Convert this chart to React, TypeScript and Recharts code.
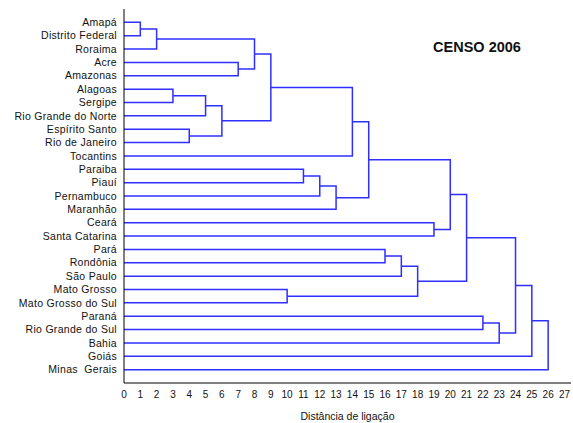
import React from "react";
import { ComposedChart, Line, XAxis, YAxis } from "recharts";

const states: string[] = [
  "Amapá", "Distrito Federal", "Roraima", "Acre", "Amazonas", "Alagoas", "Sergipe",
  "Rio Grande do Norte", "Espírito Santo", "Rio de Janeiro", "Tocantins", "Paraiba",
  "Piauí", "Pernambuco", "Maranhão", "Ceará", "Santa Catarina", "Pará", "Rondônia",
  "São Paulo", "Mato Grosso", "Mato Grosso do Sul", "Paraná", "Rio Grande do Sul",
  "Bahia", "Goiás", "Minas  Gerais",
];

// merges: [left node, right node, linkage distance]; new cluster ids start at states.length
const merges: [number, number, number][] = [
  [0, 1, 1], [27, 2, 2], [5, 6, 3], [8, 9, 4], [29, 7, 5], [31, 30, 6], [3, 4, 7],
  [28, 33, 8], [34, 32, 9], [20, 21, 10], [11, 12, 11], [37, 13, 12], [38, 14, 13],
  [35, 10, 14], [40, 39, 15], [17, 18, 16], [42, 19, 17], [43, 36, 18], [15, 16, 19],
  [41, 45, 20], [46, 44, 21], [22, 23, 22], [48, 24, 23], [47, 49, 24], [50, 25, 25],
  [51, 26, 26],
];

const xTicks: number[] = [0, 1, 2, 3, 4, 5, 6, 7, 8, 9, 10, 11, 12, 13, 14, 15, 16, 17, 18, 19, 20, 21, 22, 23, 24, 25, 26, 27];
const xMinorTicks: number[] = xTicks.flatMap((t) => [t, t + 0.2, t + 0.4, t + 0.6, t + 0.8]);
const yTicks: number[] = states.map((_, i) => i);

const X_DOMAIN: [number, number] = [0, 27.4];
const Y_DOMAIN: [number, number] = [-1, 27];
const BLUE = "#2f2fff";
const FONT = "'Liberation Sans', Arial, sans-serif";

// build segments of the dendrogram from the tree structure
const nodePos: { y: number; h: number }[] = states.map((_, i) => ({ y: i, h: 0 }));
const links: { x: number; y: number }[][] = merges.map(([a, b, h]) => {
  const A = nodePos[a];
  const B = nodePos[b];
  nodePos.push({ y: (A.y + B.y) / 2, h });
  return [
    { x: A.h, y: A.y },
    { x: h, y: A.y },
    { x: h, y: B.y },
    { x: B.h, y: B.y },
  ];
});

const StateTick = (props: any) => {
  const { x, y, payload } = props;
  return (
    <text
      x={x - 7}
      y={y}
      dy="0.35em"
      textAnchor="end"
      fontSize={10.5}
      letterSpacing={0.3}
      fill="#111"
      fontFamily={FONT}
      style={{ whiteSpace: "pre" }}
    >
      {states[payload.value] ?? ""}
    </text>
  );
};

export default function App() {
  return (
    <div style={{ position: "absolute", left: 0, top: 0, width: 573, height: 423, background: "#fff", fontFamily: FONT }}>
      <ComposedChart width={573} height={423} margin={{ top: 9, right: 2, bottom: 0, left: 0 }}>
        <XAxis
          xAxisId="main"
          type="number"
          dataKey="x"
          domain={X_DOMAIN}
          allowDataOverflow
          ticks={xTicks}
          interval={0}
          height={40}
          tickLine={false}
          tickSize={0}
          tickMargin={8}
          axisLine={{ stroke: "#000" }}
          tick={{ fontSize: 10, fill: "#111", fontFamily: FONT }}
          label={{ value: "Distância de ligação", position: "insideBottom", offset: 3, fontSize: 10.5, fill: "#111", fontFamily: FONT }}
        />
        <XAxis xAxisId="bmin" type="number" orientation="bottom" mirror height={0} domain={X_DOMAIN} allowDataOverflow ticks={xMinorTicks} interval={0} tickSize={2} tick={false} axisLine={false} tickLine={{ stroke: "#000" }} />
        <XAxis xAxisId="bmaj" type="number" orientation="bottom" mirror height={0} domain={X_DOMAIN} allowDataOverflow ticks={xTicks} interval={0} tickSize={3} tick={false} axisLine={false} tickLine={{ stroke: "#000" }} />
        <XAxis xAxisId="tmin" type="number" orientation="top" mirror height={0} domain={X_DOMAIN} allowDataOverflow ticks={xMinorTicks} interval={0} tickSize={2} tick={false} axisLine={{ stroke: "#000" }} tickLine={{ stroke: "#000" }} />
        <XAxis xAxisId="tmaj" type="number" orientation="top" mirror height={0} domain={X_DOMAIN} allowDataOverflow ticks={xTicks} interval={0} tickSize={3} tick={false} axisLine={false} tickLine={{ stroke: "#000" }} />
        <YAxis
          yAxisId="left"
          type="number"
          dataKey="y"
          domain={Y_DOMAIN}
          allowDataOverflow
          reversed
          ticks={yTicks}
          interval={0}
          width={124}
          tickLine={false}
          tickSize={0}
          tickMargin={0}
          axisLine={{ stroke: "#000" }}
          tick={<StateTick />}
        />
        <YAxis yAxisId="right" type="number" orientation="right" mirror width={0} domain={Y_DOMAIN} allowDataOverflow reversed ticks={yTicks} interval={0} tickSize={3} tick={false} axisLine={{ stroke: "#000" }} tickLine={{ stroke: "#000" }} />
        {links.map((pts, i) => (
          <Line
            key={i}
            xAxisId="main"
            yAxisId="left"
            data={pts}
            dataKey="y"
            type="linear"
            stroke={BLUE}
            strokeWidth={1.5}
            dot={false}
            activeDot={false}
            isAnimationActive={false}
          />
        ))}
      </ComposedChart>
      <div style={{ position: "absolute", left: 417, top: 38, width: 120, textAlign: "center", fontSize: 14.5, fontWeight: "bold", color: "#111", lineHeight: "18px" }}>
        CENSO 2006
      </div>
    </div>
  );
}
